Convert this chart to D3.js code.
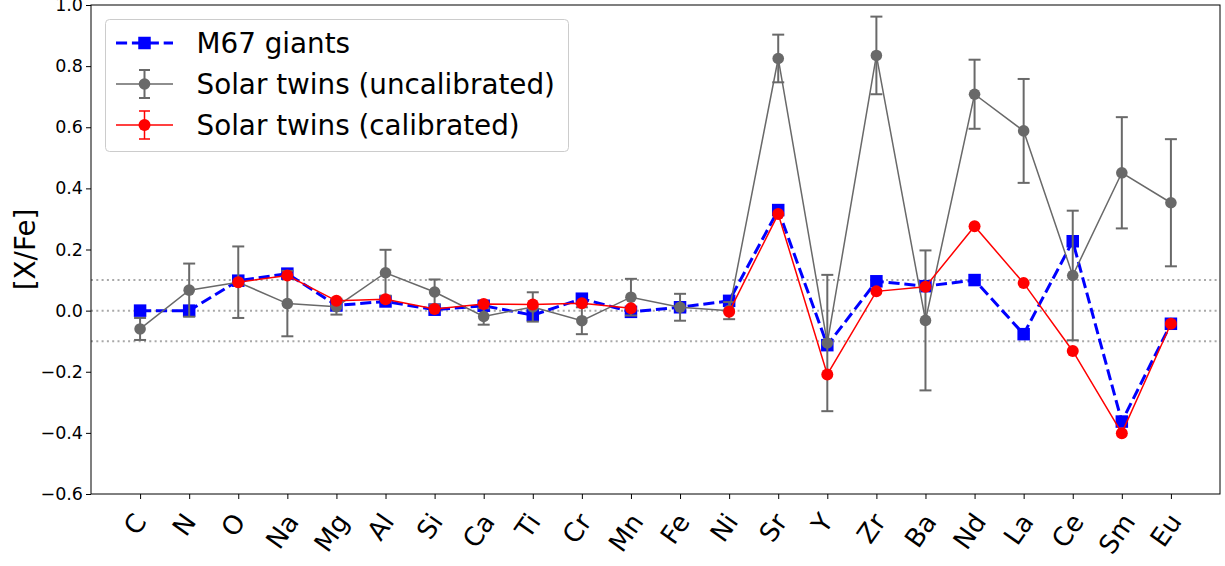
<!DOCTYPE html>
<html>
<head>
<meta charset="utf-8">
<script src="https://cdn.jsdelivr.net/npm/d3@7"></script>
<style>
  html, body { margin: 0; padding: 0; background: #fff; }
  svg { display: block; font-family: "DejaVu Sans", sans-serif; }
</style>
</head>
<body>
<svg id="chart" width="1225" height="566"></svg>
<script>
// Element abundance ratios [X/Fe]
const elements = ["C", "N", "O", "Na", "Mg", "Al", "Si", "Ca", "Ti", "Cr", "Mn", "Fe", "Ni",
                  "Sr", "Y", "Zr", "Ba", "Nd", "La", "Ce", "Sm", "Eu"];

const m67Giants = [0.000, 0.000, 0.098, 0.121, 0.017, 0.030, 0.003, 0.016, -0.015, 0.039, -0.004, 0.011, 0.032,
                   0.329, -0.113, 0.096, 0.080, 0.100, -0.077, 0.227, -0.363, -0.043];

const twinsUncal = [-0.060, 0.067, 0.093, 0.023, 0.013, 0.124, 0.061, -0.019, 0.012, -0.033, 0.044, 0.011, 0.000,
                    0.825, -0.106, 0.835, -0.032, 0.708, 0.588, 0.115, 0.451, 0.353];
const twinsUncalErr = [0.036, 0.087, 0.117, 0.107, 0.026, 0.075, 0.041, 0.027, 0.048, 0.044, 0.060, 0.044, 0.028,
                       0.078, 0.223, 0.127, 0.229, 0.113, 0.170, 0.212, 0.182, 0.208];

// null = no calibrated value (line is broken there)
const twinsCal = [null, null, 0.093, 0.115, 0.032, 0.037, 0.005, 0.022, 0.020, 0.024, 0.008, null, -0.004,
                  0.316, -0.209, 0.063, 0.078, 0.276, 0.090, -0.132, -0.401, -0.043];

const yTicks = [-0.6, -0.4, -0.2, 0.0, 0.2, 0.4, 0.6, 0.8, 1.0];
const refLines = [0.1, 0.0, -0.1];
const legendLabels = ["M67 giants", "Solar twins (uncalibrated)", "Solar twins (calibrated)"];

const BLUE = "#0000ff", GRAY = "#696969", RED = "#ff0000";

const svg = d3.select("#chart");
const L = 91, R = 1220, T = 5, B = 494;

const x = d3.scaleLinear().domain([-1, 22]).range([L, R]);
const y = d3.scaleLinear().domain([-0.6, 1.0]).range([B, T]);

// reference dotted lines
svg.append("g").selectAll("line").data(refLines).join("line")
  .attr("x1", L).attr("x2", R)
  .attr("y1", d => y(d)).attr("y2", d => y(d))
  .attr("stroke", "#a9a9a9").attr("stroke-width", 2)
  .attr("stroke-dasharray", "2,3.3");

const plot = svg.append("g");

// M67 giants: dashed blue with squares
const lineGen = d3.line().defined(d => d[1] !== null).x(d => x(d[0])).y(d => y(d[1]));
const idx = elements.map((_, i) => i);

plot.append("path")
  .attr("d", lineGen(idx.map(i => [i, m67Giants[i]])))
  .attr("fill", "none").attr("stroke", BLUE).attr("stroke-width", 3)
  .attr("stroke-dasharray", "11.1,4.8");
const sq = 12.5;
plot.append("g").selectAll("rect").data(idx).join("rect")
  .attr("x", i => x(i) - sq / 2).attr("y", i => y(m67Giants[i]) - sq / 2)
  .attr("width", sq).attr("height", sq).attr("fill", BLUE);

// Solar twins uncalibrated: gray with error bars
const eb = plot.append("g").attr("stroke", GRAY).attr("stroke-width", 2);
eb.selectAll("line.v").data(idx).join("line").attr("class", "v")
  .attr("x1", i => x(i)).attr("x2", i => x(i))
  .attr("y1", i => y(twinsUncal[i] + twinsUncalErr[i]))
  .attr("y2", i => y(twinsUncal[i] - twinsUncalErr[i]));
[1, -1].forEach(s => {
  eb.selectAll("line.c" + (s > 0 ? "t" : "b")).data(idx).join("line").attr("class", "c" + (s > 0 ? "t" : "b"))
    .attr("x1", i => x(i) - 6).attr("x2", i => x(i) + 6)
    .attr("y1", i => y(twinsUncal[i] + s * twinsUncalErr[i]))
    .attr("y2", i => y(twinsUncal[i] + s * twinsUncalErr[i]));
});
plot.append("path")
  .attr("d", lineGen(idx.map(i => [i, twinsUncal[i]])))
  .attr("fill", "none").attr("stroke", GRAY).attr("stroke-width", 1.5);
plot.append("g").selectAll("circle").data(idx).join("circle")
  .attr("cx", i => x(i)).attr("cy", i => y(twinsUncal[i])).attr("r", 5.8).attr("fill", GRAY);

// Solar twins calibrated: red
plot.append("path")
  .attr("d", lineGen(idx.map(i => [i, twinsCal[i]])))
  .attr("fill", "none").attr("stroke", RED).attr("stroke-width", 1.5);
plot.append("g").selectAll("circle").data(idx.filter(i => twinsCal[i] !== null)).join("circle")
  .attr("cx", i => x(i)).attr("cy", i => y(twinsCal[i])).attr("r", 6).attr("fill", RED);

// frame
svg.append("rect").attr("x", L).attr("y", T).attr("width", R - L).attr("height", B - T)
  .attr("fill", "none").attr("stroke", "#000").attr("stroke-width", 1);

// y axis
const yAxis = svg.append("g").attr("transform", `translate(${L},0)`)
  .call(d3.axisLeft(y).tickValues(yTicks).tickFormat(d3.format(".1f")).tickSizeOuter(0).tickSize(5).tickPadding(3));
yAxis.select(".domain").remove();
yAxis.selectAll("text").attr("font-size", 17.5).attr("fill", "#000").attr("font-family", "DejaVu Sans");
yAxis.selectAll("line").attr("stroke", "#000");

// x axis: tick marks from the axis, rotated labels drawn separately
const xAxis = svg.append("g").attr("transform", `translate(0,${B})`)
  .call(d3.axisBottom(x).tickValues(idx).tickFormat("").tickSizeOuter(0).tickSize(5));
xAxis.select(".domain").remove();
xAxis.selectAll("line").attr("stroke", "#000");

const fsX = 26, rot = 55, rad = rot * Math.PI / 180;
const xLabels = svg.append("g");
idx.forEach(i => {
  const g = xLabels.append("g");
  const t = g.append("text")
    .attr("font-size", fsX).attr("fill", "#000").attr("font-family", "DejaVu Sans")
    .attr("text-anchor", "middle").attr("x", 0).attr("y", 0)
    .attr("dy", (0.346 * fsX).toFixed(2))
    .text(elements[i]);
  const w = t.node().getComputedTextLength();
  const h = 1.164 * fsX;
  const H = w * Math.sin(rad) + h * Math.cos(rad);
  g.attr("transform", `translate(${x(i) - 5},${B + 14 + H / 2}) rotate(${-rot})`);
});

// y label
svg.append("text")
  .attr("transform", `translate(25,${(T + B) / 2}) rotate(-90)`)
  .attr("text-anchor", "middle").attr("dominant-baseline", "central")
  .attr("font-size", 27.8).text("[X/Fe]");

// legend
const lg = svg.append("g");
lg.append("rect").attr("x", 105.5).attr("y", 19.5).attr("width", 463).attr("height", 132).attr("rx", 4)
  .attr("fill", "#fff").attr("fill-opacity", 0.8).attr("stroke", "#cccccc").attr("stroke-width", 1);
const rows = [43, 84, 125];
const hx0 = 116, hx1 = 173, hxm = 144.5;
// M67 entry
lg.append("line").attr("x1", hx0).attr("x2", hx1).attr("y1", rows[0]).attr("y2", rows[0])
  .attr("stroke", BLUE).attr("stroke-width", 3).attr("stroke-dasharray", "11.1,4.8");
lg.append("rect").attr("x", hxm - sq / 2).attr("y", rows[0] - sq / 2).attr("width", sq).attr("height", sq).attr("fill", BLUE);
// uncalibrated entry
lg.append("line").attr("x1", hx0).attr("x2", hx1).attr("y1", rows[1]).attr("y2", rows[1]).attr("stroke", GRAY).attr("stroke-width", 1.5);
lg.append("line").attr("x1", hxm).attr("x2", hxm).attr("y1", rows[1] - 14).attr("y2", rows[1] + 14).attr("stroke", GRAY).attr("stroke-width", 2);
[-14, 14].forEach(o => lg.append("line").attr("x1", hxm - 5.5).attr("x2", hxm + 5.5)
  .attr("y1", rows[1] + o).attr("y2", rows[1] + o).attr("stroke", GRAY).attr("stroke-width", 2));
lg.append("circle").attr("cx", hxm).attr("cy", rows[1]).attr("r", 5.8).attr("fill", GRAY);
// calibrated entry
lg.append("line").attr("x1", hx0).attr("x2", hx1).attr("y1", rows[2]).attr("y2", rows[2]).attr("stroke", RED).attr("stroke-width", 1.5);
lg.append("line").attr("x1", hxm).attr("x2", hxm).attr("y1", rows[2] - 14).attr("y2", rows[2] + 14).attr("stroke", RED).attr("stroke-width", 1.5);
[-14, 14].forEach(o => lg.append("line").attr("x1", hxm - 5.5).attr("x2", hxm + 5.5)
  .attr("y1", rows[2] + o).attr("y2", rows[2] + o).attr("stroke", RED).attr("stroke-width", 1.5));
lg.append("circle").attr("cx", hxm).attr("cy", rows[2]).attr("r", 6).attr("fill", RED);

lg.selectAll("text.lbl").data(legendLabels).join("text").attr("class", "lbl")
  .attr("x", 196.5).attr("y", (d, i) => rows[i])
  .attr("dominant-baseline", "central").attr("font-size", 27.8).attr("fill", "#000")
  .text(d => d);
</script>
</body>
</html>
